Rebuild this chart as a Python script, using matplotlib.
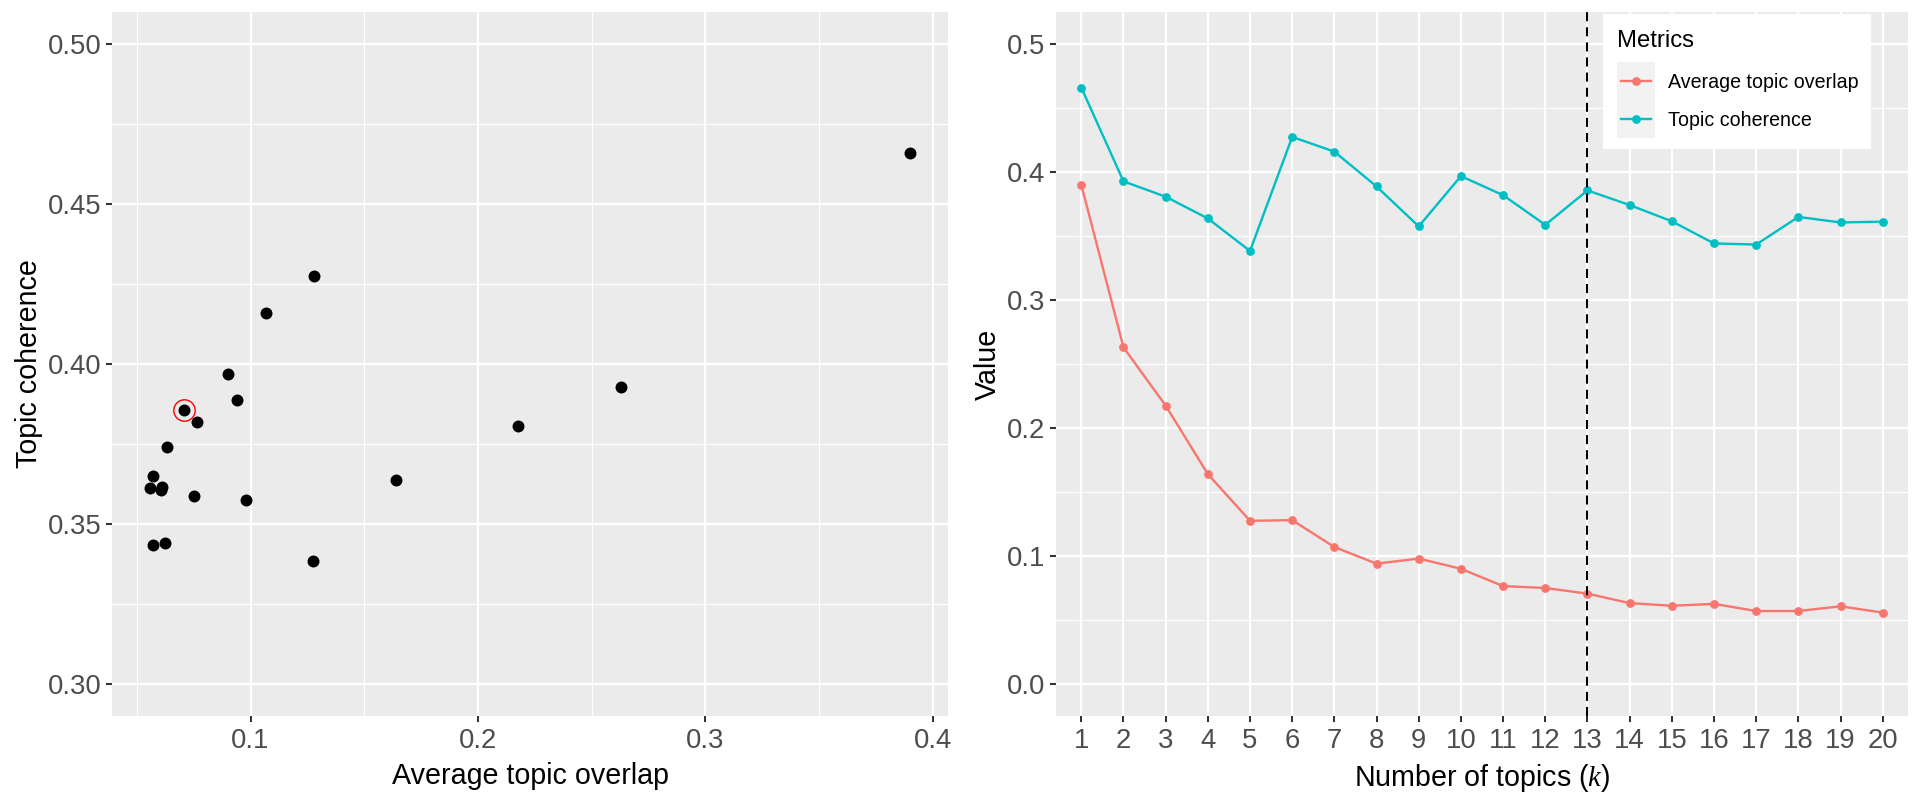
import numpy as np
import matplotlib
matplotlib.use("Agg")
import matplotlib.pyplot as plt
from matplotlib.patches import Rectangle
from matplotlib.ticker import FixedLocator, FormatStrFormatter

plt.rcParams['font.family'] = ['Liberation Sans', 'DejaVu Sans']
plt.rcParams['mathtext.fontset'] = 'custom'
plt.rcParams['mathtext.it'] = 'Liberation Serif:italic'
plt.rcParams['mathtext.rm'] = 'Liberation Sans'

# ---- data ----
k_values = list(range(1, 21))
avg_overlap = [0.390, 0.263, 0.2175, 0.164, 0.1275, 0.128, 0.107, 0.094, 0.098, 0.090,
               0.0765, 0.075, 0.0706, 0.0632, 0.0611, 0.0626, 0.0570, 0.0570, 0.0607, 0.0558]
coherence = [0.466, 0.3927, 0.3807, 0.3637, 0.3383, 0.4274, 0.4159, 0.3887, 0.3575, 0.3968,
             0.3819, 0.3587, 0.3856, 0.3742, 0.3615, 0.3442, 0.3433, 0.3649, 0.3606, 0.3612]
selected_k = 13
series_names = ["Average topic overlap", "Topic coherence"]
legend_title = "Metrics"
left_yticks = [0.30, 0.35, 0.40, 0.45, 0.50]
left_xticks = [0.1, 0.2, 0.3, 0.4]
right_yticks = [0.0, 0.1, 0.2, 0.3, 0.4, 0.5]

C_OVER = '#F8766D'
C_COH = '#00BFC4'
PANEL = '#EBEBEB'
TICKLAB = '#4D4D4D'
TICKCOL = '#333333'
TICK_FS = 19.8
TITLE_FS = 20.6

W, H = 1922, 802
fig = plt.figure(figsize=(W / 100, H / 100), dpi=100)
fig.patch.set_facecolor('white')

def px_axes(x0, x1, y0, y1):
    return fig.add_axes([x0 / W, 1 - y1 / H, (x1 - x0) / W, (y1 - y0) / H])

ax1 = px_axes(112, 948, 12, 716)
ax2 = px_axes(1056, 1908, 12, 716)

def style(ax):
    ax.set_facecolor(PANEL)
    for s in ax.spines.values():
        s.set_visible(False)
    ax.set_axisbelow(True)
    ax.grid(which='major', color='white', linewidth=1.6)
    ax.grid(which='minor', color='white', linewidth=0.8)
    ax.tick_params(which='major', length=4.3, width=1.45, color=TICKCOL,
                   labelcolor=TICKLAB, labelsize=TICK_FS)
    ax.tick_params(axis='x', which='major', pad=4.2)
    ax.tick_params(axis='y', which='major', pad=3.4)
    ax.tick_params(which='minor', length=0)

# ---- left: scatter ----
style(ax1)
ax1.scatter(avg_overlap, coherence, s=8.6 ** 2, color='black', linewidths=0, zorder=3)
sel = k_values.index(selected_k)
ax1.plot([avg_overlap[sel]], [coherence[sel]], marker='o', ms=15.4, mfc='none',
         mec='#FF0000', mew=1.0, linestyle='none', zorder=4)
xr = max(avg_overlap) - min(avg_overlap)
ax1.set_xlim(min(avg_overlap) - 0.05 * xr, max(avg_overlap) + 0.05 * xr)
ax1.set_ylim(0.29, 0.51)
ax1.xaxis.set_major_locator(FixedLocator(left_xticks))
ax1.xaxis.set_minor_locator(FixedLocator([0.05, 0.15, 0.25, 0.35]))
ax1.yaxis.set_major_locator(FixedLocator(left_yticks))
ax1.yaxis.set_minor_locator(FixedLocator([0.325, 0.375, 0.425, 0.475]))
ax1.xaxis.set_major_formatter(FormatStrFormatter('%.1f'))
ax1.yaxis.set_major_formatter(FormatStrFormatter('%.2f'))
ax1.set_xlabel('Average topic overlap', fontsize=TITLE_FS, color='black', labelpad=5.8)
ax1.set_ylabel('Topic coherence', fontsize=TITLE_FS, color='black', labelpad=3.6)

# ---- right: lines ----
style(ax2)
ax2.plot(k_values, avg_overlap, color=C_OVER, lw=1.7, marker='o', ms=5.3, zorder=3)
ax2.plot(k_values, coherence, color=C_COH, lw=1.7, marker='o', ms=5.3, zorder=3)
vl = ax2.axvline(selected_k, color='black', lw=1.45, zorder=4)
vl.set_dashes([4.5, 3])
ax2.set_xlim(0.4, 20.6)
ax2.set_ylim(-0.025, 0.525)
ax2.xaxis.set_major_locator(FixedLocator(k_values))
ax2.set_xticklabels([str(k) for k in k_values])
ax2.yaxis.set_major_locator(FixedLocator(right_yticks))
ax2.yaxis.set_minor_locator(FixedLocator([0.05, 0.15, 0.25, 0.35, 0.45]))
ax2.yaxis.set_major_formatter(FormatStrFormatter('%.1f'))
ax2.set_xlabel('Number of topics ($k$)', fontsize=TITLE_FS, color='black', labelpad=5.8)
ax2.set_ylabel('Value', fontsize=TITLE_FS, color='black', labelpad=3.6)

# ---- legend (ggplot-style box, laid out in pixel units) ----
LX0, LX1, LY0, LY1 = 1603, 1871, 14, 149
lax = px_axes(LX0, LX1, LY0, LY1)
lax.set_xlim(0, LX1 - LX0)
lax.set_ylim(LY1 - LY0, 0)
lax.set_facecolor('white')
lax.set_xticks([])
lax.set_yticks([])
for s in lax.spines.values():
    s.set_visible(False)
key_x, key_w, key_y, key_h = 14, 38, 48, 38
lax.text(key_x, 33, legend_title, fontsize=17.2, color='black', va='baseline', ha='left')
for i, (name, col) in enumerate(zip(series_names, [C_OVER, C_COH])):
    y0 = key_y + i * key_h
    lax.add_patch(Rectangle((key_x, y0), key_w, key_h, facecolor='#F2F2F2', edgecolor='none'))
    yc = y0 + key_h / 2
    lax.plot([key_x + 4, key_x + key_w - 4], [yc, yc], color=col, lw=1.7)
    lax.plot([key_x + key_w / 2], [yc], color=col, marker='o', ms=5.3)
    lax.text(key_x + key_w + 13, yc + 6.5, name, fontsize=14.1, color='black',
             va='baseline', ha='left')

fig.savefig('out.png', dpi=100, facecolor='white')
